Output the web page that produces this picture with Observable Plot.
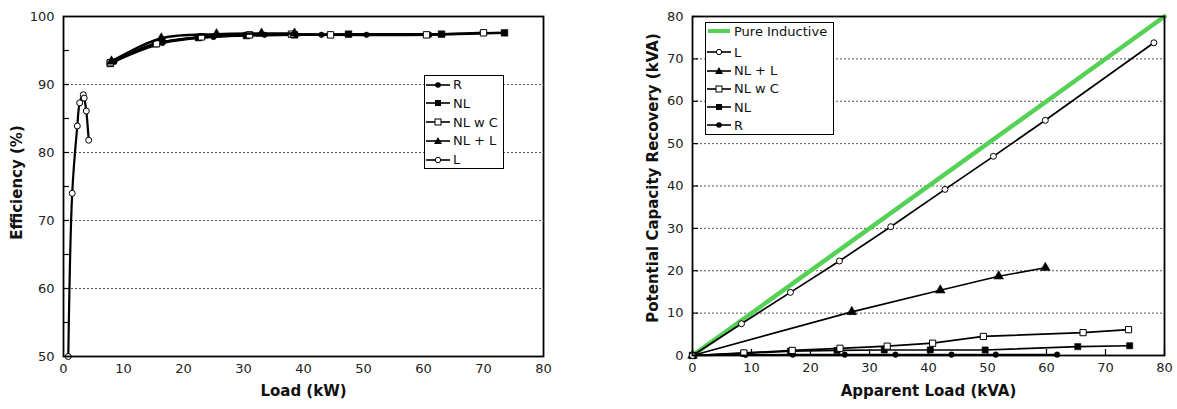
<!DOCTYPE html>
<html><head><meta charset="utf-8">
<script src="https://cdn.jsdelivr.net/npm/d3@7"></script>
<script src="https://cdn.jsdelivr.net/npm/@observablehq/plot@0.6"></script>
<style>
body{margin:0;background:#fff;font-family:"DejaVu Sans",Verdana,sans-serif;}
#wrap{position:relative;width:1177px;height:409px;display:flex;}
#wrap > svg{display:block;flex:none}
.legend{position:absolute;background:#fff;border:1.5px solid #000;box-sizing:border-box;font-size:13px;color:#111;}
.row{position:absolute;left:1px;display:flex;align-items:center;height:18px;white-space:nowrap;}
.row svg{display:block;margin-right:3px}
</style></head><body><div id="wrap"></div>
<script>
// ---------- Left chart: Efficiency vs Load ----------
const loadTicks = [0,10,20,30,40,50,60,70,80];
const effTicks = [50,60,70,80,90,100];
const effMinor = [55,60,65,70,75,80,85,90,95];
const effGrid = [60,70,80,90];

const effR_x = [8.5,16.5,25,33.5,43,50.5,61];
const effR_y = [93.4,96.1,97.0,97.3,97.3,97.3,97.3];
const effNL_x = [7.8,15.3,22.5,30.5,38.5,47.5,63,73.5];
const effNL_y = [93.1,96.0,96.9,97.2,97.3,97.4,97.4,97.6];
const effNLC_x = [7.8,15.5,23,31,38,44.5,60.5,70];
const effNLC_y = [93.2,96.0,97.0,97.3,97.4,97.3,97.3,97.6];
const effNLL_x = [8,16.3,25.5,33,38.5];
const effNLL_y = [93.4,96.8,97.4,97.5,97.5];
const effL_x = [0.8,1.45,2.3,2.7,3.3,3.45,3.8,4.2];
const effL_y = [50,74,83.9,87.3,88.5,88.0,86.1,81.8];

// ---------- Right chart: Capacity recovery vs apparent load ----------
const kvaTicks = [0,10,20,30,40,50,60,70,80];
const recTicks = [0,10,20,30,40,50,60,70,80];
const recGrid = [10,20,30,40,50,60,70];

const pure_x = [0,80];
const pure_y = [0,80];
const recL_x = [0,8.3,16.6,24.9,33.6,42.8,51,59.8,78.2];
const recL_y = [0,7.5,14.9,22.3,30.4,39.2,47.0,55.5,73.8];
const recNLL_x = [0,27,42,51.9,59.8];
const recNLL_y = [0,10.3,15.4,18.7,20.7];
const recNLC_x = [0,8.7,16.9,25,33,40.7,49.3,66.2,73.9];
const recNLC_y = [0,0.6,1.2,1.7,2.2,2.9,4.5,5.4,6.1];
const recNL_x = [0,8.7,16.6,24.5,32.5,40.3,49.6,65.3,74.1];
const recNL_y = [0,0.5,1.0,1.2,1.3,1.3,1.3,2.1,2.3];
const recR_x = [0,9,17,25.8,34.4,43.9,51.4,61.8];
const recR_y = [0,0.15,0.2,0.2,0.2,0.2,0.2,0.2];

const leftLegend = ["R","NL","NL w C","NL + L","L"];
const rightLegend = ["Pure Inductive","L","NL + L","NL w C","NL","R"];

const zip = (xs, ys) => xs.map((x,i) => ({x, y: ys[i]}));

const FONT = "DejaVu Sans, Verdana, sans-serif";

function seriesMarks(data, sym, open, curve, sw, r) {
  return [
    Plot.line(data, {x:"x", y:"y", stroke:"black", strokeWidth:sw, curve}),
    Plot.dot(data, {x:"x", y:"y", symbol:sym, r, fill: open ? "white" : "black", stroke:"black", strokeWidth: open ? 1 : 0.5})
  ];
}

const LW = 590, LPW = 480, LPH = 340;
const left = Plot.plot({
  width: LW, height: 409, marginLeft: 63, marginRight: 47, marginTop: 16, marginBottom: 53,
  x: {domain:[0,80]},
  y: {domain:[50,100]},
  style: {fontFamily: FONT, fontSize: "13px", color: "#222", background: "white", overflow: "visible"},
  marks: [
    Plot.ruleY(effGrid, {stroke:"#555", strokeDasharray:"2,2"}),
    Plot.axisX(loadTicks, {tickSize:0, tickPadding:7, label:null, fontSize:13}),
    Plot.axisY(effTicks, {tickSize:0, tickPadding:9, label:null, fontSize:13}),
    Plot.tickY(effMinor, {y: d=>d, stroke:"black", strokeWidth:1.2, insetRight: LPW-6}),
    ...seriesMarks(zip(effR_x, effR_y), "circle", false, "catmull-rom", 2.4, 2.8),
    ...seriesMarks(zip(effNL_x, effNL_y), "square", false, "catmull-rom", 2.4, 3.8),
    ...seriesMarks(zip(effNLC_x, effNLC_y), "square", true, "catmull-rom", 2.4, 3.6),
    ...seriesMarks(zip(effNLL_x, effNLL_y), "triangle", false, "catmull-rom", 2.4, 3.6),
    ...seriesMarks(zip(effL_x, effL_y), "circle", true, "catmull-rom", 2.2, 3),
    Plot.frame({stroke:"black", strokeWidth:1.8}),
    Plot.text(["Load (kW)"], {frameAnchor:"bottom", text:d=>d, dy:39, fontWeight:"bold", fontSize:15, fill:"#111", textAnchor:"middle"}),
    Plot.text(["Efficiency (%)"], {frameAnchor:"left", text:d=>d, rotate:-90, dx:-46, dy:-4, fontWeight:"bold", fontSize:15, fill:"#111", textAnchor:"middle"})
  ]
});

const RW = 587, RPW = 472, RPH = 339;
const right = Plot.plot({
  width: RW, height: 409, marginLeft: 102, marginRight: 13, marginTop: 16, marginBottom: 54,
  x: {domain:[0,80]},
  y: {domain:[0,80]},
  style: {fontFamily: FONT, fontSize: "13px", color: "#222", background: "white", overflow: "visible"},
  marks: [
    Plot.ruleY(recGrid, {stroke:"#555", strokeDasharray:"2,2"}),
    Plot.axisX(kvaTicks, {tickSize:0, tickPadding:7, label:null, fontSize:13}),
    Plot.axisY(recTicks, {tickSize:0, tickPadding:9, label:null, fontSize:13}),
    Plot.tickY(recTicks, {y: d=>d, stroke:"black", strokeWidth:1.2, insetRight: RPW-6}),
    Plot.tickX(kvaTicks, {x: d=>d, stroke:"black", strokeWidth:1.2, insetTop: RPH-6}),
    Plot.line(zip(pure_x, pure_y), {x:"x", y:"y", stroke:"#55d155", strokeWidth:4.5}),
    ...seriesMarks(zip(recR_x, recR_y), "circle", false, "linear", 1.7, 2.8),
    ...seriesMarks(zip(recNL_x, recNL_y), "square", false, "linear", 1.7, 3.5),
    ...seriesMarks(zip(recNLC_x, recNLC_y), "square", true, "linear", 1.7, 3.5),
    ...seriesMarks(zip(recNLL_x, recNLL_y), "triangle", false, "linear", 1.7, 3.6),
    ...seriesMarks(zip(recL_x, recL_y), "circle", true, "linear", 1.7, 3),
    Plot.frame({stroke:"black", strokeWidth:1.8}),
    Plot.text(["Apparent Load (kVA)"], {frameAnchor:"bottom", text:d=>d, dy:40, fontWeight:"bold", fontSize:15, fill:"#111", textAnchor:"middle"}),
    Plot.text(["Potential Capacity Recovery (kVA)"], {frameAnchor:"left", text:d=>d, rotate:-90, dx:-39, dy:-8, fontWeight:"bold", fontSize:15, fill:"#111", textAnchor:"middle"})
  ]
});

const wrap = document.getElementById("wrap");
wrap.appendChild(left);
wrap.appendChild(right);

// ---------- Legends ----------
function swatch(kind) {
  const w = 24, h = 18, cx = 12, cy = 9;
  let s = `<svg width="${w}" height="${h}">`;
  if (kind === "green") {
    s += `<line x1="1" x2="${w-1}" y1="${cy}" y2="${cy}" stroke="#55d155" stroke-width="4"/>`;
  } else {
    s += `<line x1="0" x2="${w}" y1="${cy}" y2="${cy}" stroke="black" stroke-width="1.6"/>`;
    if (kind === "R") s += `<circle cx="${cx}" cy="${cy}" r="2.8" fill="black"/>`;
    if (kind === "NL") s += `<rect x="${cx-3}" y="${cy-3}" width="6" height="6" fill="black"/>`;
    if (kind === "NL w C") s += `<rect x="${cx-3}" y="${cy-3}" width="6" height="6" fill="white" stroke="black" stroke-width="1"/>`;
    if (kind === "NL + L") s += `<polygon points="${cx},${cy-4} ${cx+4},${cy+3} ${cx-4},${cy+3}" fill="black"/>`;
    if (kind === "L") s += `<circle cx="${cx}" cy="${cy}" r="2.7" fill="white" stroke="black" stroke-width="1"/>`;
  }
  return s + `</svg>`;
}
function legend(items, box, centers) {
  const d = document.createElement("div");
  d.className = "legend";
  Object.assign(d.style, {left: box[0]+"px", top: box[1]+"px", width: box[2]+"px", height: box[3]+"px"});
  items.forEach((name, i) => {
    const r = document.createElement("div");
    r.className = "row";
    r.style.top = (centers[i] - 9) + "px";
    r.innerHTML = swatch(name === "Pure Inductive" ? "green" : name) + `<span>${name}</span>`;
    d.appendChild(r);
  });
  wrap.appendChild(d);
}
legend(leftLegend, [424, 75, 80, 94], [8.5, 27.3, 46.1, 64.9, 83.7]);
legend(rightLegend, [705, 22, 129, 113], [8.2, 29.2, 47.5, 65.8, 84.1, 102.4]);
</script></body></html>
